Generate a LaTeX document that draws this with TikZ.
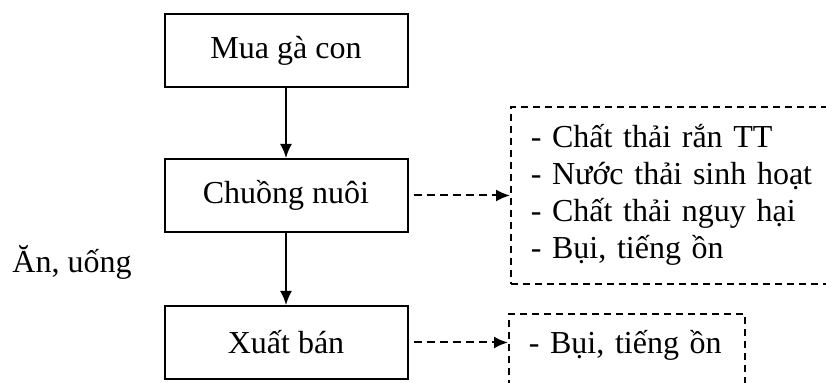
\documentclass[tikz,border=0pt]{standalone}
\usepackage{fontspec}
\setmainfont{Liberation Serif}
\usetikzlibrary{arrows.meta,positioning,calc}
\tikzstyle{stage}=[draw, line width=1pt, minimum width=121.5pt, minimum height=36.5pt, inner sep=0pt]
\tikzstyle{waste}=[draw, dash pattern=on 3.5pt off 2.5pt, line width=0.8pt, align=left, inner xsep=10pt]
\tikzstyle{flow}=[-{Latex[length=7pt,width=6pt]}, line width=1pt]
\tikzstyle{emit}=[flow, dash pattern=on 4pt off 2.5pt, shorten <=2.5pt]

\begin{document}
\begin{tikzpicture}[x=0.5pt, y=-0.5pt, font=\fontsize{16}{18.5}\selectfont]
	\path[use as bounding box, clip] (0,0) rectangle (826,383);

	\node[stage] (buy) at (286,51) {Mua gà con};
	\node[stage] (pen) at (286,195.5) {Chuồng nuôi};
	\node[stage] (sale) at (286,342.5) {Xuất bán};
	\node[anchor=base west, inner sep=0pt] (feed) at (12,273) {Ăn, uống};

	\node[waste, anchor=north west, text width=162pt, minimum height=88.5pt] (waste1) at (510,106)
		{- Chất thải rắn TT\\- Nước thải sinh hoạt\\- Chất thải nguy hại\\- Bụi, tiếng ồn};
	\node[waste, anchor=north west, text width=98pt, inner ysep=0pt, text height=20pt, text depth=35pt] (waste2) at (508,313)
		{- Bụi, tiếng ồn};

	\draw[flow] (buy) -- (pen);
	\draw[flow] (pen) -- (sale);
	\draw[emit] (pen.east) -- (pen.east -| waste1.west);
	\draw[emit] (sale.east) -- (sale.east -| waste2.west);

\end{tikzpicture}
\end{document}
